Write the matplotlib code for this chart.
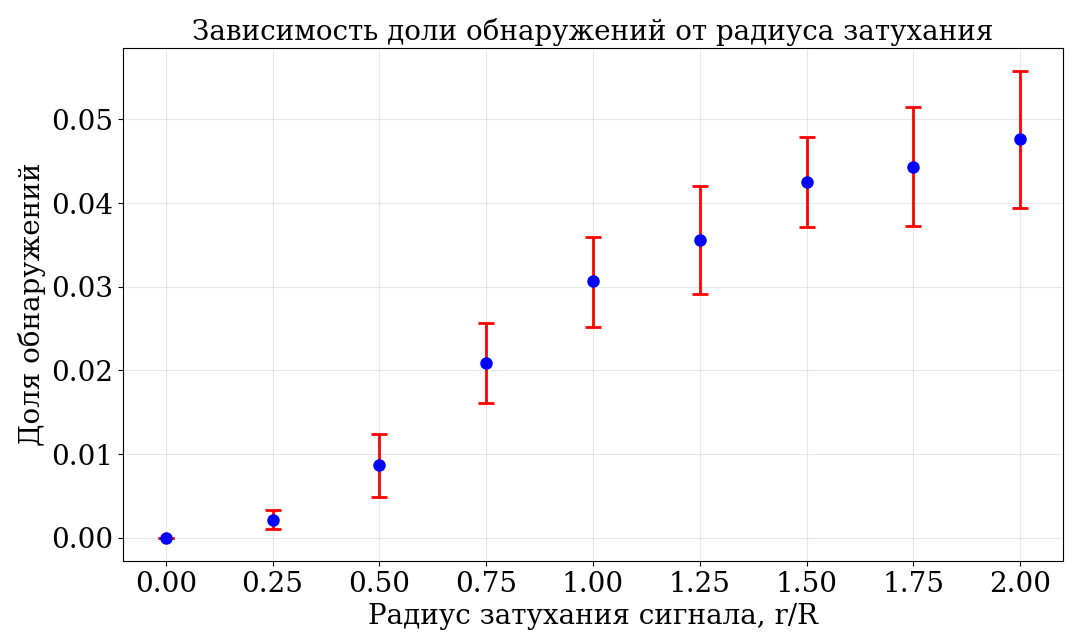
import matplotlib
matplotlib.use("Agg")
import matplotlib.pyplot as plt
import numpy as np

# радиус затухания и доля обнаружений
radius = [0.0, 0.25, 0.5, 0.75, 1.0, 1.25, 1.5, 1.75, 2.0]
fraction = [0.0, 0.00215, 0.00873, 0.02093, 0.03062, 0.03553, 0.04246, 0.04426, 0.04761]
err_low = [0.0, 0.00107, 0.00383, 0.00478, 0.00538, 0.00646, 0.00538, 0.00706, 0.00826]
err_high = [0.0, 0.00120, 0.00371, 0.00477, 0.00527, 0.00646, 0.00539, 0.00718, 0.00813]

plt.rcParams["font.family"] = "DejaVu Serif"

fig = plt.figure(figsize=(10.9, 6.41), dpi=100)
ax = fig.add_axes([123 / 1090, 1 - 561 / 641, 940 / 1090, 513 / 641])

ax.errorbar(radius, fraction, yerr=[err_low, err_high], fmt="o", color="blue",
            ecolor="red", elinewidth=2, capsize=6, capthick=2, markersize=8)

ax.set_xticks(radius)
ax.set_xlabel("Радиус затухания сигнала, r/R", fontsize=20)
ax.set_ylabel("Доля обнаружений", fontsize=20)
ax.set_title("Зависимость доли обнаружений от радиуса затухания", fontsize=20)
ax.tick_params(labelsize=20)
ax.grid(True, alpha=0.3)

fig.savefig("out.png", dpi=100)
plt.close(fig)
